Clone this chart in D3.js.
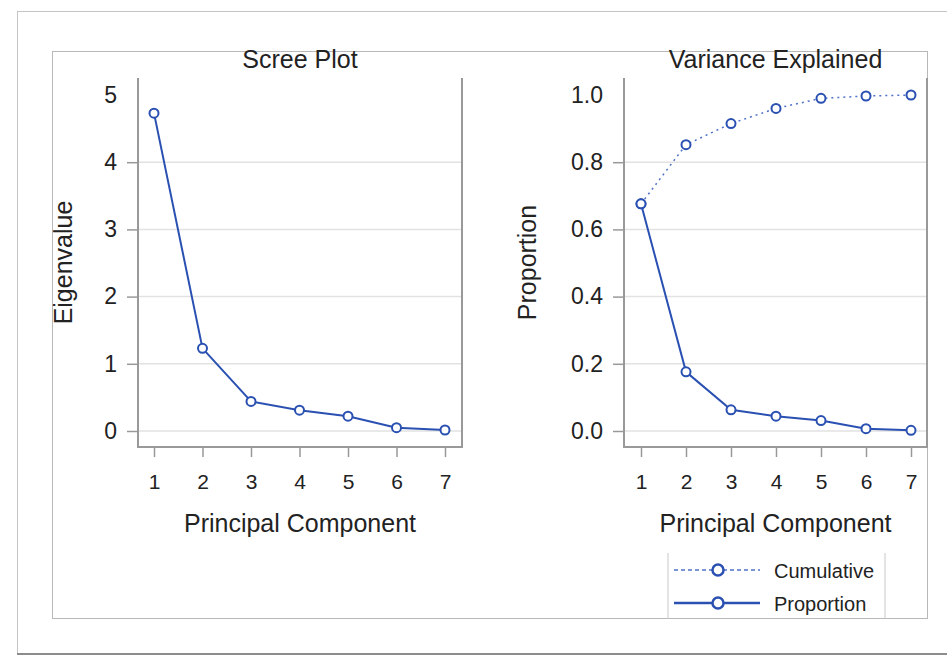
<!DOCTYPE html>
<html>
  <head>
    <title>Scree Plot and Variance Explained</title>
    <script src="https://d3js.org/d3.v7.min.js"></script>
    <style>
      body { margin: 0; background: #fff; }
      svg text { font-family: "Liberation Sans", Arial, sans-serif; fill: #222; }
      .tick text { font-size: 23px; }
      .xaxis .tick text { font-size: 21px; }
      .title { font-size: 25px; }
      .axis-label { font-size: 25px; }
      .legend text { font-size: 20px; }
    </style>
  </head>
  <body>
    <svg width="947" height="656"></svg>

    <script>
      const components = [1, 2, 3, 4, 5, 6, 7];
      const eigenvalues = [4.73, 1.23, 0.44, 0.31, 0.22, 0.05, 0.015];
      const proportion = [0.676, 0.176, 0.063, 0.044, 0.031, 0.007, 0.002];
      const cumulative = [0.676, 0.852, 0.915, 0.96, 0.99, 0.997, 1.0];
      const eigenTicks = [0, 1, 2, 3, 4, 5];
      const propTicks = [0, 0.2, 0.4, 0.6, 0.8, 1.0];

      const blue = "#2a50b2";
      const lightBlue = "#4f72c8";

      function panel(svg, props) {
        const { left, right, top, bottom, xRange, yDomain, yRange, ticks, fmt, title, yLabel, yLabelX } = props;
        const g = svg.append("g");
        const x = d3.scaleLinear().domain([1, 7]).range(xRange);
        const y = d3.scaleLinear().domain(yDomain).range(yRange);

        // grid
        g.selectAll(".grid").data(ticks.slice(0, -1)).enter().append("line")
            .attr("x1", left).attr("x2", right)
            .attr("y1", d => y(d)).attr("y2", d => y(d))
            .attr("stroke", "#e2e2e2").attr("stroke-width", 1.5);

        // y axis
        const ya = g.append("g").attr("transform", `translate(${left},0)`)
            .call(d3.axisLeft(y).tickValues(ticks).tickFormat(fmt).tickSize(11).tickPadding(10));
        ya.select(".domain").remove();
        ya.selectAll(".tick line").attr("stroke", "#999").attr("stroke-width", 1.5)
            .filter(d => d === ticks[ticks.length - 1]).remove();

        // x axis
        const xa = g.append("g").attr("class", "xaxis").attr("transform", `translate(0,${bottom})`)
            .call(d3.axisBottom(x).tickValues(components).tickFormat(d3.format("d")).tickSize(10).tickPadding(17));
        xa.select(".domain").remove();
        xa.selectAll(".tick line").attr("stroke", "#999").attr("stroke-width", 1.5);

        // plot borders (left, bottom, right)
        g.append("path")
            .attr("d", `M${left},${top}V${bottom}H${right}V${top}`)
            .attr("fill", "none").attr("stroke", "#999").attr("stroke-width", 2);

        g.append("text").attr("class", "title")
            .attr("x", (left + right) / 2).attr("y", 68)
            .attr("text-anchor", "middle").text(title);
        g.append("text").attr("class", "axis-label")
            .attr("x", (left + right) / 2).attr("y", 532)
            .attr("text-anchor", "middle").text("Principal Component");
        g.append("text").attr("class", "axis-label")
            .attr("transform", `translate(${yLabelX},${(top + bottom) / 2}) rotate(-90)`)
            .attr("text-anchor", "middle").text(yLabel);

        return { g, x, y };
      }

      function series(g, x, y, values, opts) {
        const line = d3.line().x((d, i) => x(components[i])).y(d => y(d));
        g.append("path").datum(values)
            .attr("d", line).attr("fill", "none")
            .attr("stroke", opts.color).attr("stroke-width", opts.width)
            .attr("stroke-dasharray", opts.dash || null);
        g.selectAll(null).data(values).enter().append("circle")
            .attr("cx", (d, i) => x(components[i])).attr("cy", d => y(d))
            .attr("r", 4.5).attr("fill", "#fff")
            .attr("stroke", blue).attr("stroke-width", 2);
      }

      function main() {
        const svg = d3.select("svg");

        // outer frame
        svg.append("rect").attr("x", 17.5).attr("y", 11.5).attr("width", 940).attr("height", 642)
            .attr("fill", "#fff").attr("stroke", "#c4c4c4");
        svg.append("line").attr("x1", 17).attr("x2", 947).attr("y1", 654).attr("y2", 654)
            .attr("stroke", "#8c8c8c").attr("stroke-width", 2);
        // inner frame
        svg.append("rect").attr("x", 52.5).attr("y", 51.5).attr("width", 875).attr("height", 567)
            .attr("fill", "none").attr("stroke", "#b8b8b8");

        const p1 = panel(svg, {
          left: 138, right: 462, top: 78, bottom: 447,
          xRange: [154, 445], yDomain: [0, 5], yRange: [431, 95],
          ticks: eigenTicks, fmt: d3.format("d"),
          title: "Scree Plot", yLabel: "Eigenvalue", yLabelX: 72
        });
        series(p1.g, p1.x, p1.y, eigenvalues, { color: blue, width: 2 });

        const p2 = panel(svg, {
          left: 624, right: 927, top: 78, bottom: 447,
          xRange: [641, 911], yDomain: [0, 1], yRange: [431, 95],
          ticks: propTicks, fmt: d3.format(".1f"),
          title: "Variance Explained", yLabel: "Proportion", yLabelX: 536
        });
        series(p2.g, p2.x, p2.y, cumulative, { color: lightBlue, width: 1.5, dash: "2,4" });
        series(p2.g, p2.x, p2.y, proportion, { color: blue, width: 2 });

        // legend
        const lg = svg.append("g").attr("class", "legend");
        lg.append("path").attr("d", "M668,553V619M885,553V619")
            .attr("stroke", "#c8c8c8").attr("fill", "none");
        const items = [
          { label: "Cumulative", color: lightBlue, width: 1.5, dash: "4,3", y: 570 },
          { label: "Proportion", color: blue, width: 2.5, dash: null, y: 603 }
        ];
        const it = lg.selectAll(".item").data(items).enter().append("g").attr("class", "item");
        it.append("line").attr("x1", 674).attr("x2", 760)
            .attr("y1", d => d.y).attr("y2", d => d.y)
            .attr("stroke", d => d.color).attr("stroke-width", d => d.width)
            .attr("stroke-dasharray", d => d.dash);
        it.append("circle").attr("cx", 718).attr("cy", d => d.y).attr("r", 5.5)
            .attr("fill", "#fff").attr("stroke", blue).attr("stroke-width", 2.5);
        it.append("text").attr("x", 774).attr("y", d => d.y + 8).text(d => d.label);
      }
      main();
    </script>
  </body>
</html>
